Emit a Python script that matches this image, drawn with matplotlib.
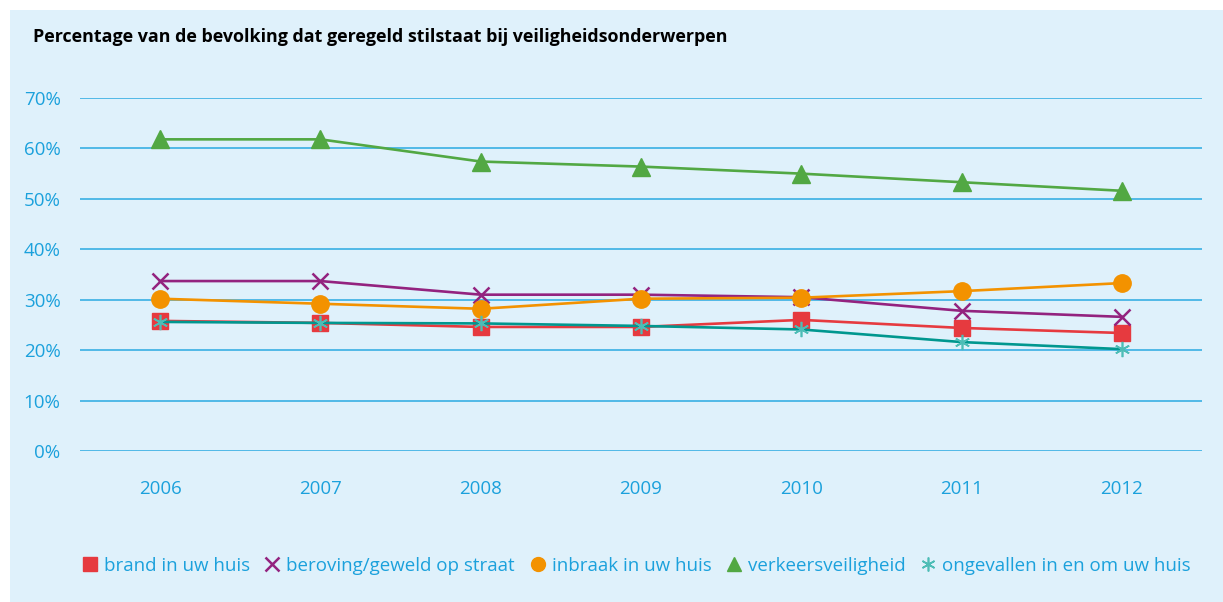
import matplotlib
matplotlib.use("Agg")
import matplotlib.pyplot as plt
from matplotlib.patches import Rectangle
from matplotlib.ticker import FuncFormatter

plt.rcParams['font.family'] = ['Open Sans', 'DejaVu Sans']

# data (percent)
years = [2006, 2007, 2008, 2009, 2010, 2011, 2012]
brand = [25.8, 25.4, 24.6, 24.6, 26.0, 24.4, 23.4]
beroving = [33.7, 33.7, 31.0, 31.0, 30.5, 27.8, 26.6]
inbraak = [30.2, 29.2, 28.2, 30.2, 30.4, 31.7, 33.3]
verkeer = [61.8, 61.8, 57.4, 56.4, 55.0, 53.3, 51.6]
ongevallen = [25.6, 25.4, 25.3, 24.8, 24.1, 21.6, 20.2]

labels = ['brand in uw huis', 'beroving/geweld op straat', 'inbraak in uw huis',
          'verkeersveiligheid', 'ongevallen in en om uw huis']
title = 'Percentage van de bevolking dat geregeld stilstaat bij veiligheidsonderwerpen'

blue_txt = '#1BA1DC'
grid_col = '#2AAAE2'
bg = '#DFF1FB'

fig = plt.figure(figsize=(12.23, 6.02), dpi=100)
fig.patch.set_facecolor('white')
fig.patches.append(Rectangle((10/1223, 0), 1 - 10/1223, 592/602, transform=fig.transFigure,
                             facecolor=bg, edgecolor='none', zorder=-10))

ax = fig.add_axes([80/1223, 151/602, 1122/1223, 353/602])
ax.set_facecolor('none')
for s in ax.spines.values():
    s.set_visible(False)

ax.set_xlim(2005.5, 2012.5)
ax.set_ylim(0, 70)
ax.set_yticks(range(0, 80, 10))
ax.yaxis.set_major_formatter(FuncFormatter(lambda v, p: '%d%%' % v))
ax.set_xticks(years)
ax.tick_params(length=0, labelcolor=blue_txt, labelsize=13.5)
ax.tick_params(axis='y', pad=14)
ax.tick_params(axis='x', pad=21)
ax.grid(axis='y', color=grid_col, linewidth=1.1)
ax.set_axisbelow(True)

lw = 1.9
h1, = ax.plot(years, brand, color='#E63A3F', lw=lw, marker='s', ms=11.5, clip_on=False, zorder=3)
h2, = ax.plot(years, beroving, color='#93237F', lw=lw, marker='x', ms=12, mew=1.8, clip_on=False, zorder=3)
h3, = ax.plot(years, inbraak, color='#F39200', lw=lw, marker='o', ms=12.5, clip_on=False, zorder=3)
h4, = ax.plot(years, verkeer, color='#52A843', lw=lw, marker='^', ms=13.5, clip_on=False, zorder=3)
h5, = ax.plot(years, ongevallen, color='#00978F', lw=lw, marker=(6, 2, 0), ms=11, mew=1.2,
              mec='#4DBDB6', clip_on=False, zorder=4)

fig.text(33/1223, 1 - 37/602, title, fontsize=12.9, fontweight='bold', color='black',
         va='center', ha='left')

leg = fig.legend([h1, h2, h3, h4, h5], labels, loc='center', bbox_to_anchor=(0.52, 1 - 566/602),
                 ncol=5, frameon=False, fontsize=13.5, handlelength=0.9, handletextpad=0.3,
                 columnspacing=0.75)
for t in leg.get_texts():
    t.set_color(blue_txt)
for lh in leg.get_lines():
    lh.set_linestyle('none')
    lh.set_markersize(10)

fig.savefig('out.png', dpi=100)
